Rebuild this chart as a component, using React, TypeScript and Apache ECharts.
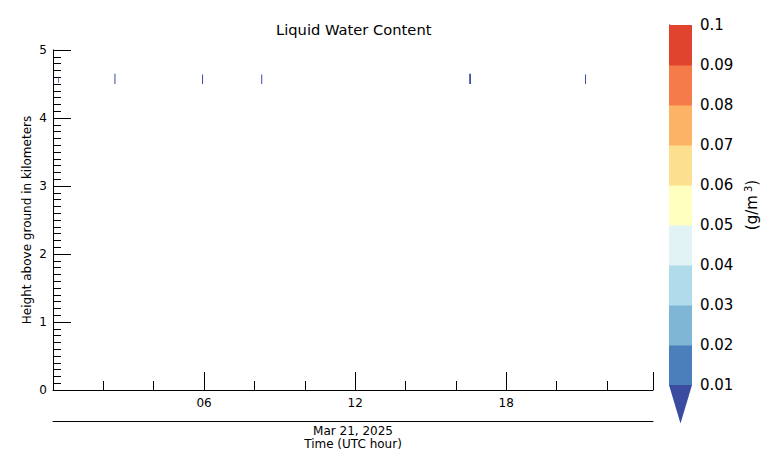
import React, { useEffect, useRef } from "react";
import * as echarts from "echarts";

// Time axis (UTC hours) and height axis (km)
const timeTicks = [6, 12, 18];
const timeMax = 23.83;
const heightMax = 5;

// Observed liquid water cells: start/end time (h), bottom/top height (km), LWC (g/m^3)
const cellStart = [0.2, 2.44, 5.92, 8.27, 16.53, 21.13];
const cellEnd = [0.23, 2.48, 5.96, 8.31, 16.6, 21.17];
const cellBottom = [4.52, 4.5, 4.5, 4.5, 4.5, 4.5];
const cellTop = [4.6, 4.65, 4.64, 4.64, 4.65, 4.64];
const cellLwc = [0.004, 0.006, 0.006, 0.006, 0.008, 0.006];

// Colour scale
const levels = [0.01, 0.02, 0.03, 0.04, 0.05, 0.06, 0.07, 0.08, 0.09, 0.1];
const bandColors = [
  "#4a7fbb",
  "#7fb5d5",
  "#b0dbea",
  "#e1f3f4",
  "#ffffc0",
  "#fddf90",
  "#fdb366",
  "#f57b4a",
  "#e0442f",
];
const underColor = "#3a4ba0";

const FONT = "DejaVu Sans";

function colorFor(v: number): string {
  if (v < levels[0]) return underColor;
  for (let i = 0; i < bandColors.length; i++) {
    if (v < levels[i + 1]) return bandColors[i];
  }
  return bandColors[bandColors.length - 1];
}

export default function App() {
  const ref = useRef<HTMLDivElement>(null);

  useEffect(() => {
    if (!ref.current) return;
    const chart = echarts.init(ref.current, null, { renderer: "svg" });

    const cellData = cellStart.map((s, i) => [s, cellEnd[i], cellBottom[i], cellTop[i], cellLwc[i]]);
    const bandData = bandColors.map((c, i) => [levels[i], levels[i + 1], i]);

    const option: any = {
      animation: false,
      backgroundColor: "#ffffff",
      textStyle: { fontFamily: FONT },
      title: {
        text: "Liquid Water Content",
        left: 271,
        top: 17,
        textStyle: { fontFamily: FONT, fontSize: 14.7, fontWeight: "normal", color: "#000" },
      },
      grid: [
        { left: 53, top: 50, width: 600, height: 340 },
        { left: 669, top: 25, width: 23, height: 360 },
      ],
      xAxis: [
        {
          type: "value",
          gridIndex: 0,
          min: 0,
          max: timeMax,
          interval: 6,
          position: "bottom",
          axisLine: { show: true, lineStyle: { color: "#000", width: 1 } },
          axisTick: { show: true, inside: true, length: 18, lineStyle: { color: "#000" } },
          minorTick: { show: true, splitNumber: 3, length: 9, lineStyle: { color: "#000" } },
          splitLine: { show: false },
          minorSplitLine: { show: false },
          axisLabel: {
            fontFamily: FONT,
            fontSize: 12,
            color: "#000",
            margin: 7,
            formatter: (v: number) => (timeTicks.indexOf(v) >= 0 ? String(v).padStart(2, "0") : ""),
          },
        },
        {
          type: "value",
          gridIndex: 0,
          min: 0,
          max: timeMax,
          position: "bottom",
          offset: 31,
          axisLine: { show: true, onZero: false, lineStyle: { color: "#000", width: 1 } },
          axisTick: { show: false },
          axisLabel: { show: false },
          splitLine: { show: false },
          name: "Mar 21, 2025\nTime (UTC hour)",
          nameLocation: "middle",
          nameGap: 4,
          nameMoveOverlap: false,
          nameTextStyle: {
            fontFamily: FONT,
            fontSize: 12,
            color: "#000",
            lineHeight: 12.5,
            verticalAlign: "top",
          },
        },
        {
          type: "value",
          gridIndex: 1,
          min: 0,
          max: 1,
          show: false,
        },
      ],
      yAxis: [
        {
          type: "value",
          gridIndex: 0,
          min: 0,
          max: heightMax,
          interval: 1,
          axisLine: { show: true, lineStyle: { color: "#000", width: 1 } },
          axisTick: { show: true, inside: true, length: 18, lineStyle: { color: "#000" } },
          minorTick: { show: true, splitNumber: 10, length: 8, lineStyle: { color: "#000" } },
          splitLine: { show: false },
          minorSplitLine: { show: false },
          axisLabel: { fontFamily: FONT, fontSize: 12, color: "#000", margin: 6 },
          name: "Height above ground in kilometers",
          nameLocation: "middle",
          nameRotate: 90,
          nameGap: 20,
          nameMoveOverlap: false,
          nameTextStyle: { fontFamily: FONT, fontSize: 12, color: "#000" },
        },
        {
          type: "value",
          gridIndex: 1,
          position: "right",
          min: 0.01,
          max: 0.1,
          interval: 0.01,
          axisLine: { show: true, lineStyle: { color: "#000", width: 1 } },
          axisTick: { show: false },
          splitLine: { show: false },
          axisLabel: {
            fontFamily: FONT,
            fontSize: 15,
            color: "#000",
            margin: 8,
            formatter: (v: number) => String(parseFloat(v.toFixed(2))),
          },
          name: "{n|(g/m}{s|3}{n|)}",
          nameLocation: "middle",
          nameRotate: 90,
          nameGap: 51,
          nameTextStyle: {
            fontFamily: FONT,
            color: "#000",
            rich: {
              n: { fontFamily: FONT, fontSize: 15, color: "#000" },
              s: { fontFamily: FONT, fontSize: 10, color: "#000", verticalAlign: "top", padding: [0, 0, 8, 3] },
            },
          },
        },
      ],
      series: [
        {
          type: "custom",
          xAxisIndex: 0,
          yAxisIndex: 0,
          clip: true,
          data: cellData,
          renderItem: (params: any, api: any) => {
            const p0 = api.coord([api.value(0), api.value(3)]);
            const p1 = api.coord([api.value(1), api.value(2)]);
            return {
              type: "rect",
              shape: {
                x: p0[0],
                y: p0[1],
                width: Math.max(p1[0] - p0[0], 0.8),
                height: p1[1] - p0[1],
              },
              style: { fill: colorFor(api.value(4)) },
            };
          },
        },
        {
          type: "custom",
          xAxisIndex: 2,
          yAxisIndex: 1,
          clip: false,
          data: bandData,
          renderItem: (params: any, api: any) => {
            const p0 = api.coord([0, api.value(1)]);
            const p1 = api.coord([1, api.value(0)]);
            return {
              type: "rect",
              shape: { x: p0[0], y: p0[1], width: p1[0] - p0[0], height: p1[1] - p0[1] + 0.5 },
              style: { fill: bandColors[api.value(2)] },
            };
          },
          z: 1,
        },
        {
          type: "custom",
          xAxisIndex: 2,
          yAxisIndex: 1,
          clip: false,
          data: [[levels[0]]],
          renderItem: (params: any, api: any) => {
            const lo = api.value(0);
            const a = api.coord([0, lo]);
            const b = api.coord([1, lo]);
            const c = api.coord([0.5, lo - 0.0096]);
            return {
              type: "polygon",
              shape: { points: [a, b, c] },
              style: { fill: underColor },
            };
          },
          z: 1,
        },
      ],
    };

    chart.setOption(option);
    return () => chart.dispose();
  }, []);

  return (
    <div
      ref={ref}
      style={{ position: "fixed", left: 0, top: 0, width: 773, height: 471, background: "#fff" }}
    />
  );
}
